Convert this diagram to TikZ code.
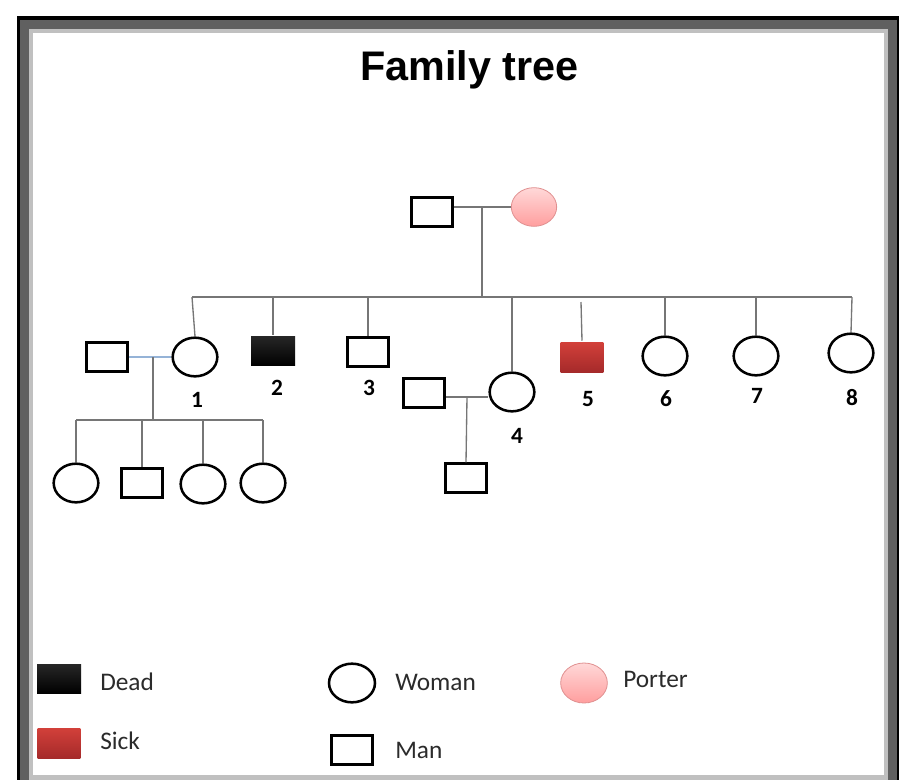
\documentclass[tikz,border=0pt]{standalone}
\usepackage{fontspec}
\setmainfont{Carlito}
\newfontfamily\headfont{Liberation Sans}
\usetikzlibrary{shapes.geometric}
\definecolor{kinline}{HTML}{767676}
\definecolor{spouseblue}{HTML}{95B3D7}
\definecolor{sicktop}{HTML}{D2403A}
\definecolor{sickbot}{HTML}{A52A2A}
\definecolor{portertop}{HTML}{FFD8D8}
\definecolor{porterbot}{HTML}{FF9E9E}
\definecolor{porteredge}{HTML}{E09090}
\definecolor{framedark}{HTML}{606060}
\definecolor{framelight}{HTML}{C0C0C0}
\definecolor{keytext}{HTML}{2B2B2B}

\begin{document}
\begin{tikzpicture}[x=0.75pt, y=-0.75pt,
    woman/.style={ellipse, draw=black, line width=1.9pt, inner sep=0pt,
      minimum width=33.5pt, minimum height=29pt},
    man/.style={rectangle, draw=black, line width=1.9pt, inner sep=0pt,
      minimum width=31pt, minimum height=21.5pt},
    dead/.style={man, draw=none, top color=black!85, bottom color=black,
      minimum width=33pt, minimum height=22pt},
    sick/.style={man, draw=none, top color=sicktop, bottom color=sickbot,
      minimum width=32pt, minimum height=22.5pt},
    porter/.style={ellipse, draw=porteredge, line width=0.6pt, inner sep=0pt,
      top color=portertop, bottom color=porterbot,
      minimum width=34pt, minimum height=29pt},
    kin/.style={draw=kinline, line width=1pt},
    spouse/.style={draw=spouseblue, line width=1pt},
    num/.style={anchor=base, inner sep=0pt, font=\bfseries\fontsize{17.5}{17.5}\selectfont},
    key/.style={anchor=base west, inner sep=0pt, text=keytext,
      font=\fontsize{19}{19}\selectfont}
  ]
  \useasboundingbox (0,0) rectangle (899,779);

  % frame
  \begin{scope}
    \clip (0,0) rectangle (899,779);
    \fill[black] (17,16) rectangle (905,800);
    \fill[framedark] (20,20) rectangle (897,800);
    \fill[framelight] (29,29) rectangle (888,800);
    \fill[white] (33,33) rectangle (884,775);
  \end{scope}

  \node[anchor=base, font=\headfont\bfseries\fontsize{31}{31}\selectfont] (title) at (469.5,80) {Family tree};

  % parents
  \node[man] (f0) at (432,212) {};
  \node[porter] (m0) at (534,207) {};

  % children
  \node[woman] (c1) at (195,357) {};
  \node[dead]  (c2) at (273,351) {};
  \node[man]   (c3) at (368,352) {};
  \node[woman] (c4) at (512,392) {};
  \node[sick]  (c5) at (582,357) {};
  \node[woman] (c6) at (665,356) {};
  \node[woman] (c7) at (756,356) {};
  \node[woman] (c8) at (851,353) {};

  \node[num] (n1) at (197,407) {1};
  \node[num] (n2) at (277,395) {2};
  \node[num] (n3) at (369,395) {3};
  \node[num] (n4) at (517,443) {4};
  \node[num] (n5) at (588,406) {5};
  \node[num] (n6) at (666,406) {6};
  \node[num] (n7) at (757,403) {7};
  \node[num] (n8) at (852,405) {8};

  % spouses and grandchildren
  \node[man] (s1) at (107,357) {};
  \node[man] (s4) at (424,393) {};
  \node[woman] (g1) at (76,483) {};
  \node[man]   (g2) at (142,483) {};
  \node[woman] (g3) at (203,484) {};
  \node[woman] (g4) at (263,483) {};
  \node[man]   (g5) at (466,478) {};

  % lines
  \coordinate (wed0) at (482,207);
  \coordinate (barL) at (192,297);
  \coordinate (barR) at (852,297);
  \coordinate (gap5) at (581,302);
  \draw[kin] (f0.east |- wed0) -- (m0.west |- wed0);
  \draw[kin] (wed0) -- (wed0 |- barL);
  \draw[kin] (barL) -- (barR);
  \draw[kin] (barL) -- (c1.north);
  \foreach \c in {c2,c3,c4,c6,c7}
    \draw[kin] (\c.north |- barL) -- (\c.north);
  \draw[kin] (barR) -- (c8.north);
  \draw[kin] (gap5) -- (c5.north);

  \coordinate (wed1) at (153,357);
  \coordinate (kids1) at (153,420);
  \draw[spouse] (s1.east) -- (c1.west);
  \draw[kin] (wed1) -- (kids1);
  \draw[kin] (g1.north |- kids1) -- (g4.north |- kids1);
  \foreach \g in {g1,g2,g3,g4}
    \draw[kin] (\g.north |- kids1) -- (\g.north);

  \coordinate (wed4) at (467,397);
  \draw[kin] (s4.east |- wed4) -- (c4.west |- wed4);
  \draw[kin] (wed4) -- (g5.north);

  % legend
  \node[dead] (kdead) at (59,679) {};
  \node[key] (tdead) at (100,690) {Dead};
  \node[sick] (ksick) at (59,743) {};
  \node[key] (tsick) at (100,749) {Sick};
  \node[woman, minimum width=34.5pt, minimum height=29pt] (kwoman) at (352,683) {};
  \node[key] (twoman) at (395,690) {Woman};
  \node[man] (kman) at (352,750) {};
  \node[key] (tman) at (395,758) {Man};
  \node[porter, minimum width=35pt, minimum height=30pt] (kporter) at (584,683) {};
  \node[key] (tporter) at (623,687) {Porter};
\end{tikzpicture}
\end{document}
